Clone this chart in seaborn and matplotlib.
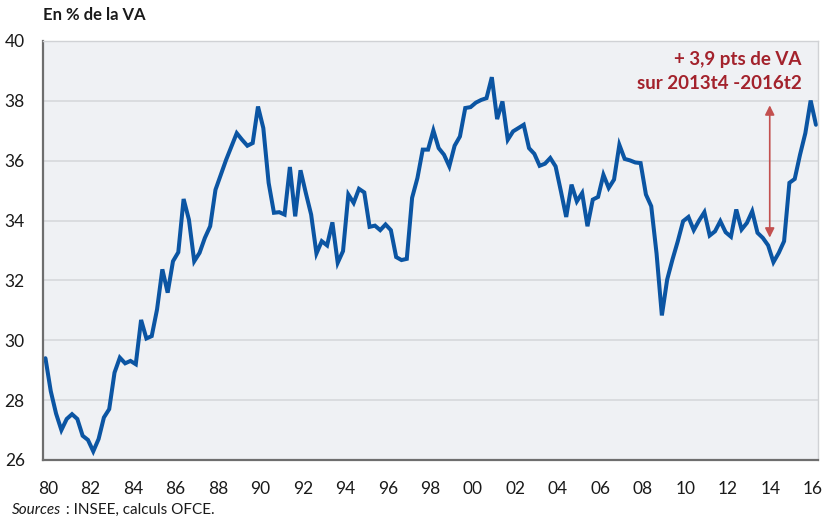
import numpy as np
import pandas as pd
import matplotlib
matplotlib.use("Agg")
import matplotlib.pyplot as plt
import matplotlib.transforms as mtransforms
import seaborn as sns

# quarterly series, 1980t1 -> 2016t2 (en % de la VA)
start_year = 1980
values = [
    29.40, 28.30, 27.55, 27.00, 27.37, 27.53, 27.37, 26.81,  # 80-81
    26.67, 26.29, 26.70, 27.42, 27.70, 28.92, 29.42, 29.23,  # 82-83
    29.31, 29.20, 30.68, 30.06, 30.14, 31.03, 32.37, 31.59,  # 84-85
    32.64, 32.94, 34.72, 34.03, 32.64, 32.92, 33.42, 33.81,  # 86-87
    35.03, 35.53, 36.03, 36.48, 36.92, 36.70, 36.50, 36.59,  # 88-89
    37.81, 37.09, 35.26, 34.26, 34.28, 34.20, 35.79, 34.14,  # 90-91
    35.68, 34.92, 34.20, 32.90, 33.31, 33.17, 33.94, 32.59,  # 92-93
    32.98, 34.87, 34.59, 35.06, 34.94, 33.79, 33.83, 33.68,  # 94-95
    33.87, 33.68, 32.78, 32.68, 32.72, 34.76, 35.42, 36.37,  # 96-97
    36.37, 37.01, 36.42, 36.20, 35.81, 36.50, 36.81, 37.76,  # 98-99
    37.79, 37.94, 38.03, 38.09, 38.79, 37.39, 37.98, 36.70,  # 00-01
    36.98, 37.09, 37.20, 36.42, 36.23, 35.83, 35.90, 36.09,  # 02-03
    35.81, 34.98, 34.12, 35.20, 34.64, 34.92, 33.81, 34.70,  # 04-05
    34.79, 35.53, 35.09, 35.37, 36.53, 36.06, 36.01, 35.94,  # 06-07
    35.92, 34.87, 34.48, 32.90, 30.83, 32.03, 32.70, 33.31,  # 08-09
    33.98, 34.12, 33.68, 34.00, 34.28, 33.50, 33.64, 33.98,  # 10-11
    33.61, 33.46, 34.37, 33.70, 33.92, 34.31, 33.59, 33.42,  # 12-13
    33.17, 32.61, 32.92, 33.31, 35.26, 35.39, 36.20, 36.92,  # 14-15
    38.01, 37.20,                                            # 16
]
tick_years = list(range(1980, 2017, 2))
tick_labels = [f"{y % 100:02d}" for y in tick_years]
y_ticks = [26, 28, 30, 32, 34, 36, 38, 40]

df = pd.DataFrame({"valeur": values})
df["date"] = start_year + df.index / 4 + 0.125  # middle of each quarter

sns.set_style("white")
plt.rcParams["font.family"] = ["Lato", "DejaVu Sans"]

fig = plt.figure(figsize=(8.26, 5.2), dpi=100)
ax = fig.add_axes([0.0518, 0.1154, 0.9385, 0.8058])
ax.set_facecolor("#eff1f4")

sns.lineplot(data=df, x="date", y="valeur", ax=ax, color="#0b55a3",
             linewidth=2.9, solid_joinstyle="miter")

ax.set_xlim(1980, 2016.47)
ax.set_ylim(26, 40)
ax.set_yticks(y_ticks)
ax.set_xticks(tick_years)
ax.set_xticklabels(tick_labels)
ax.set_xlabel("")
ax.set_ylabel("")
ax.yaxis.grid(True, color="#d6d8db", linewidth=1.2)
ax.set_axisbelow(True)

for side in ["top", "right"]:
    ax.spines[side].set_color("#d0d2d5")
    ax.spines[side].set_linewidth(1)
for side in ["left", "bottom"]:
    ax.spines[side].set_color("#6e6e6e")
    ax.spines[side].set_linewidth(1.6)

ax.tick_params(axis="x", length=7, width=1, color="#a0a0a0", pad=8,
               labelsize=12.5, labelcolor="#1a1a1a")
ax.tick_params(axis="y", length=0, pad=13, labelsize=12.5, labelcolor="#1a1a1a")
shift = mtransforms.ScaledTranslation(5 / 100, 0, fig.dpi_scale_trans)
for lab in ax.get_xticklabels():
    lab.set_transform(lab.get_transform() + shift)

# annotation : hausse 2013t4 -> 2016t2
ax.annotate("", xy=(2014.2, 33.43), xytext=(2014.2, 37.85),
            arrowprops=dict(arrowstyle="<|-|>", color="#c3504f", lw=1.2,
                            mutation_scale=14, shrinkA=0, shrinkB=0))
ax.text(0.979, 0.975, "+ 3,9 pts de VA\nsur 2013t4 -2016t2", transform=ax.transAxes,
        ha="right", va="top", fontsize=13.5, fontweight="bold", color="#a3222c",
        linespacing=1.5)

fig.text(0.052, 0.962, "En % de la VA", fontsize=12, fontweight="bold",
         color="#1a1a1a", ha="left", va="baseline")

# sources line: italic word followed by plain text
src = fig.text(0.015, 0.011, "Sources", fontsize=11, style="italic",
               color="#1a1a1a", ha="left", va="baseline")
fig.canvas.draw()
bb = src.get_window_extent(fig.canvas.get_renderer())
fig.text(bb.x1 / fig.bbox.width, 0.011, " : INSEE, calculs OFCE.", fontsize=11,
         color="#1a1a1a", ha="left", va="baseline")

fig.savefig("out.png", dpi=100, facecolor="white")
